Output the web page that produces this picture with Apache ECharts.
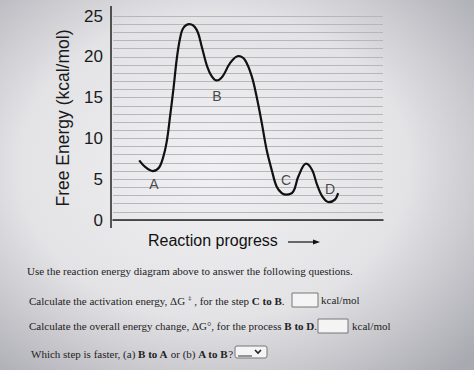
<!DOCTYPE html>
<html>
<head>
<meta charset="utf-8">
<script src="https://cdn.jsdelivr.net/npm/echarts@6/dist/echarts.min.js"></script>
<style>
html,body{margin:0;padding:0;}
#c{width:474px;height:370px;}
</style>
</head>
<body>
<div id="c"></div>
<script>
// Reaction progress (0-100 scale) and free energy (kcal/mol)
const progress = [9.7, 11.9, 14.7, 17.0, 18.6, 19.9, 21.1, 22.4, 23.6, 24.8, 26.0, 28.3, 31.0, 32.9, 34.9, 36.6, 38.4, 40.6, 43.3, 46.4, 48.9, 51.4, 53.2, 55.1, 56.9, 58.8, 60.6, 62.5, 64.3, 66.8, 68.6, 71.5, 73.8, 75.4, 77.5, 80.0, 82.2, 83.4];
const energy   = [7.3, 6.5, 6.0, 6.4, 7.7, 9.6, 12.6, 16.1, 19.7, 22.2, 23.5, 24.0, 23.3, 21.2, 18.8, 17.6, 17.1, 17.6, 19.2, 20.1, 19.6, 17.6, 15.1, 11.9, 8.6, 6.1, 4.1, 3.3, 3.1, 3.5, 5.3, 6.9, 6.1, 4.5, 2.9, 2.2, 2.5, 3.3];
const stateNames = ['A', 'B', 'C', 'D'];
const stateX = [15.2, 38.5, 64.1, 80.4];
const stateY = [4.4, 15.2, 4.9, 3.8];
const yTicks = [0, 5, 10, 15, 20, 25];

const chart = echarts.init(document.getElementById('c'), null, {renderer: 'svg'});
const serif = '"Liberation Serif", "Times New Roman", serif';
const sans = '"Liberation Sans", Arial, sans-serif';
const q = {fontFamily: serif, fontSize: 11, fill: '#222'};
const rich = {
  b: {fontFamily: serif, fontSize: 11, fontWeight: 'bold', color: '#222'},
  s: {fontFamily: serif, fontSize: 7, color: '#222', verticalAlign: 'top', padding: [0,0,6,0]}
};

chart.setOption({
  backgroundColor: {
    type: 'radial', x: 0.45, y: 0.45, r: 0.75,
    colorStops: [
      {offset: 0, color: '#f1f1f3'},
      {offset: 0.55, color: '#e3e3e6'},
      {offset: 1, color: '#a9a9b1'}
    ]
  },
  animation: false,
  grid: {left: 113, right: 91, top: 16, bottom: 150},
  xAxis: {
    type: 'value', min: 0, max: 100,
    axisLine: {show: true, onZero: false, lineStyle: {color: '#222', width: 1.5}},
    axisTick: {show: false}, axisLabel: {show: false}, splitLine: {show: false}
  },
  yAxis: {
    type: 'value', min: 0, max: 25, interval: 1,
    axisLine: {show: false},
    axisTick: {show: false},
    axisLabel: {
      margin: 10, color: '#1a1a1a', fontFamily: sans, fontSize: 17,
      formatter: v => yTicks.indexOf(v) >= 0 ? String(v) : ''
    },
    splitLine: {show: true, lineStyle: {color: '#b6b6bb', width: 1}},
    name: 'Free Energy (kcal/mol)', nameLocation: 'middle', nameGap: 41,
    nameTextStyle: {fontFamily: sans, fontSize: 17.5, color: '#1a1a1a'}
  },
  series: [
    {
      type: 'line', data: progress.map((x, i) => [x, energy[i]]),
      smooth: 0.35, symbol: 'none',
      lineStyle: {color: '#111', width: 2.2}
    },
    {
      type: 'scatter', symbolSize: 0,
      data: stateNames.map((n, i) => ({value: [stateX[i], stateY[i]], name: n})),
      label: {show: true, position: 'inside', formatter: p => p.name,
        fontFamily: sans, fontSize: 14, color: '#1a1a1a'}
    }
  ],
  graphic: [
    {type: 'line', shape: {x1: 111, y1: 6, x2: 111, y2: 228}, style: {stroke: '#222', lineWidth: 1.5}},
    {type: 'text', left: 148, top: 232, style: {text: 'Reaction progress', font: '16px ' + sans, fill: '#111'}},
    {type: 'line', shape: {x1: 288, y1: 242, x2: 316, y2: 242}, style: {stroke: '#111', lineWidth: 1.2}},
    {type: 'polygon', shape: {points: [[320, 242], [313, 239.5], [313, 244.5]]}, style: {fill: '#111'}},

    {type: 'text', left: 27, top: 265, style: Object.assign({text: 'Use the reaction energy diagram above to answer the following questions.'}, q)},

    {type: 'text', left: 29, top: 294, style: Object.assign({
      text: 'Calculate the activation energy, ΔG {s|‡} , for the step {b|C to B}.', rich: rich}, q)},
    {type: 'rect', shape: {x: 292, y: 293, width: 26, height: 14}, style: {fill: '#f4f4f4', stroke: '#777', lineWidth: 1}},
    {type: 'text', left: 321, top: 294, style: Object.assign({text: 'kcal/mol'}, q)},

    {type: 'text', left: 29, top: 320, style: Object.assign({
      text: 'Calculate the overall energy change, ΔG°, for the process {b|B to D}.', rich: rich}, q)},
    {type: 'rect', shape: {x: 318, y: 319, width: 30, height: 14}, style: {fill: '#f4f4f4', stroke: '#777', lineWidth: 1}},
    {type: 'text', left: 352, top: 320, style: Object.assign({text: 'kcal/mol'}, q)},

    {type: 'text', left: 31, top: 348, style: Object.assign({
      text: 'Which step is faster, (a) {b|B to A} or (b) {b|A to B}?', rich: rich}, q)},
    {type: 'rect', shape: {x: 235, y: 346, width: 32, height: 12, r: 2}, style: {fill: '#f4f4f4', stroke: '#777', lineWidth: 1}},
    {type: 'line', shape: {x1: 238, y1: 356, x2: 252, y2: 356}, style: {stroke: '#333', lineWidth: 1}},
    {type: 'polyline', shape: {points: [[255, 350], [258, 353], [261, 350]]}, style: {stroke: '#222', lineWidth: 1.6, fill: null}}
  ]
});
</script>
</body>
</html>
